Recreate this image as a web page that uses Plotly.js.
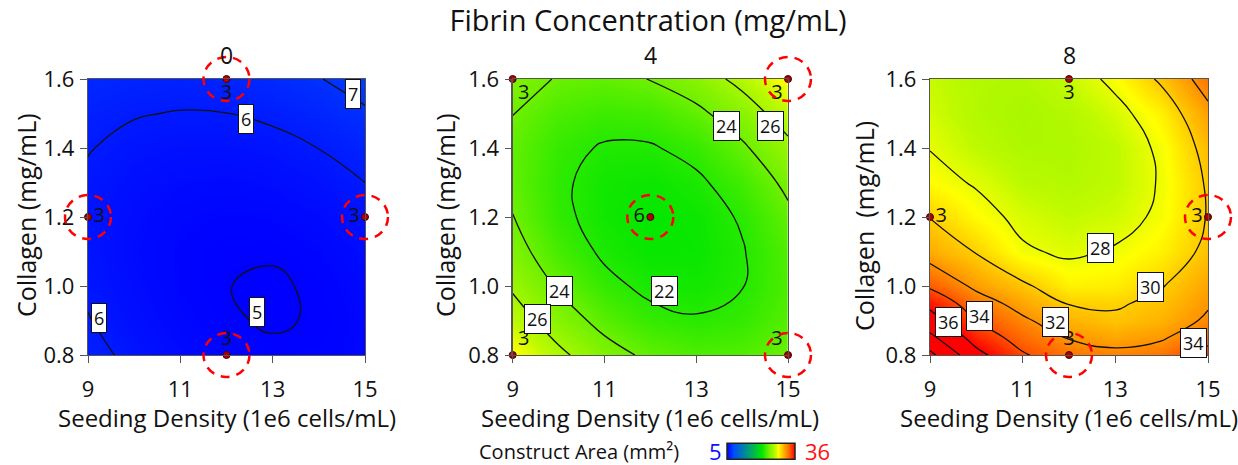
<!DOCTYPE html>
<html><head><meta charset="utf-8">
<script src="https://cdn.plot.ly/plotly-3.0.1.min.js"></script>
<style>html,body{margin:0;padding:0;background:#fff;} #chart{width:1238px;height:465px;}</style>
</head><body><div id="chart"></div>
<script>
// ---------------- data ----------------
const seedingDensity = [9, 10, 11, 12, 13, 14, 15];
const collagen = [0.8, 0.9, 1.0, 1.1, 1.2, 1.3, 1.4, 1.5, 1.6];
const collagenFine = [0.8, 0.85, 0.9, 0.95, 1.0, 1.1, 1.2, 1.3, 1.4, 1.5, 1.6];
const fibrinLevels = ['0', '4', '8'];

// Construct area (mm²), rows = collagen, cols = seeding density
const areaFibrin0 = [
  [6.28, 5.79, 5.42, 5.18, 5.10, 5.12, 5.26],
  [6.04, 5.58, 5.25, 5.06, 4.94, 5.05, 5.24],
  [5.88, 5.46, 5.17, 5.01, 4.93, 5.08, 5.31],
  [5.79, 5.41, 5.16, 5.04, 5.05, 5.19, 5.46],
  [5.79, 5.45, 5.24, 5.16, 5.20, 5.38, 5.69],
  [5.88, 5.57, 5.40, 5.35, 5.44, 5.66, 6.00],
  [6.04, 5.77, 5.64, 5.63, 5.75, 6.01, 6.39],
  [6.28, 6.05, 5.96, 5.99, 6.15, 6.44, 6.87],
  [6.61, 6.42, 6.36, 6.43, 6.63, 6.96, 7.42]
];
const areaFibrin4 = [
  [28.71, 26.43, 24.73, 23.63, 23.12, 23.21, 23.89],
  [27.04, 24.94, 23.43, 22.45, 22.12, 22.40, 23.32],
  [25.71, 23.79, 22.40, 21.65, 21.50, 21.95, 23.09],
  [24.70, 22.90, 21.75, 21.20, 21.25, 21.90, 23.20],
  [24.03, 22.35, 21.45, 21.10, 21.32, 22.15, 23.63],
  [23.70, 22.25, 21.48, 21.30, 21.72, 22.75, 24.40],
  [23.69, 22.45, 21.86, 21.86, 22.47, 23.72, 25.51],
  [24.02, 23.03, 22.63, 22.78, 23.60, 24.97, 26.94],
  [24.69, 23.88, 23.66, 24.03, 25.00, 26.56, 28.71]
];
const areaFibrin8 = [
  [40.5, 36.6, 34.2, 32.9, 32.5, 32.9, 34.8],
  [38.5, 35.2, 33.2, 31.9, 31.3, 31.8, 33.3],
  [36.8, 34.0, 32.3, 30.9, 30.3, 30.9, 32.3],
  [35.5, 32.9, 31.3, 29.9, 29.8, 30.4, 31.8],
  [33.7, 31.6, 30.3, 28.9, 29.0, 29.9, 31.4],
  [31.1, 29.9, 28.2, 27.75, 28.15, 28.9, 30.4],
  [29.95, 28.6, 27.6, 27.1, 27.4, 28.3, 30.1],
  [28.55, 27.85, 26.9, 26.6, 27.0, 28.15, 30.2],
  [27.95, 27.0, 26.4, 26.4, 27.0, 28.3, 30.6],
  [27.5, 26.6, 26.2, 26.6, 27.5, 28.9, 31.5],
  [27.2, 26.6, 26.5, 27.15, 28.4, 30.3, 32.9]
];

// design points (seeding density, collagen, replicate count)
const designX0 = [12, 9, 15, 12];
const designY0 = [1.6, 1.2, 1.2, 0.8];
const designN0 = ['3', '3', '3', '3'];
const designX4 = [9, 15, 12, 9, 15];
const designY4 = [1.6, 1.6, 1.2, 0.8, 0.8];
const designN4 = ['3', '3', '6', '3', '3'];
const designX8 = [12, 9, 15, 12];
const designY8 = [1.6, 1.2, 1.2, 0.8];
const designN8 = ['3', '3', '3', '3'];

// highlighted (circled) design points
const circledX0 = [12, 9, 15, 12];
const circledY0 = [1.6, 1.2, 1.2, 0.8];
const circledX4 = [15, 12, 15];
const circledY4 = [1.6, 1.2, 0.8];
const circledX8 = [15, 12];
const circledY8 = [1.2, 0.8];

const xTicks = [9, 11, 13, 15];
const yTicks = [0.8, 1.0, 1.2, 1.4, 1.6];
const areaMin = 5, areaMax = 36;

// contour label placements [text, x, y]
const labels0 = [['7', 14.74, 1.557], ['6', 12.42, 1.484], ['5', 12.67, 0.925], ['6', 9.23, 0.906]];
const labels4 = [['24', 13.65, 1.463], ['26', 14.61, 1.463], ['24', 10.02, 0.985], ['26', 9.55, 0.904], ['22', 12.30, 0.985]];
const labels8 = [['28', 12.67, 1.109], ['30', 13.75, 0.998], ['32', 11.70, 0.895], ['36', 9.40, 0.896], ['34', 10.06, 0.912], ['34', 14.68, 0.834]];

// ---------------- figure ----------------
const W = 1238, H = 465;
const FONT = 'Open Sans, Noto Sans, sans-serif';
const xDomains = [[88 / W, 365 / W], [512.7 / W, 788 / W], [930 / W, 1208 / W]];
const yDomain = [1 - 355 / H, 1 - 79 / H];
const xRange = [9, 15], yRange = [0.8, 1.6];

const colorscale = [
  [0, 'rgb(0,0,255)'], [0.097, 'rgb(0,75,255)'], [0.516, 'rgb(0,230,0)'],
  [0.613, 'rgb(110,240,0)'], [0.71, 'rgb(190,250,0)'], [0.758, 'rgb(255,255,0)'],
  [0.806, 'rgb(255,205,0)'], [0.871, 'rgb(255,145,0)'], [0.935, 'rgb(255,80,0)'],
  [1, 'rgb(255,0,0)']
];

const panels = [
  {z: areaFibrin0, y: collagen, lv: [5, 7, 1], dx: designX0, dy: designY0, dn: designN0,
   tp: ['bottom center', 'middle right', 'middle left', 'top center'],
   cx: circledX0, cy: circledY0, labels: labels0, ytitle: 'Collagen (mg/mL)', ytx: 26, yty: 215},
  {z: areaFibrin4, y: collagen, lv: [22, 26, 2], dx: designX4, dy: designY4, dn: designN4,
   tp: ['bottom right', 'bottom left', 'middle left', 'top right', 'top left'],
   cx: circledX4, cy: circledY4, labels: labels4, ytitle: 'Collagen (mg/mL)', ytx: 445, yty: 215},
  {z: areaFibrin8, y: collagenFine, lv: [28, 40, 2], dx: designX8, dy: designY8, dn: designN8,
   tp: ['bottom center', 'middle right', 'middle left', 'top center'],
   cx: circledX8, cy: circledY8, labels: labels8, ytitle: 'Collagen  (mg/mL)', ytx: 864, yty: 226}
];

const traces = [];
const layout = {
  width: W, height: H, margin: {l: 0, r: 0, t: 0, b: 0},
  paper_bgcolor: '#fff', plot_bgcolor: '#fff', showlegend: false,
  font: {family: FONT, color: '#111', size: 20},
  title: {text: 'Fibrin Concentration (mg/mL)', x: 648 / W, xanchor: 'center', y: 1 - 21 / H, yanchor: 'middle',
          font: {family: FONT, size: 29, color: '#111'}},
  coloraxis: {cmin: areaMin, cmax: areaMax, colorscale: colorscale,
    colorbar: {orientation: 'h', x: 761 / W, xanchor: 'center', y: 1 - 451.5 / H, yanchor: 'middle',
      len: 68, lenmode: 'pixels', thickness: 16, thicknessmode: 'pixels',
      outlinewidth: 1.5, outlinecolor: '#222', showticklabels: false, ticks: '', xpad: 0, ypad: 0}},
  annotations: [], shapes: []
};

panels.forEach((p, i) => {
  const sfx = i === 0 ? '' : String(i + 1);
  const xa = 'x' + sfx, ya = 'y' + sfx;
  traces.push({
    type: 'contour', x: seedingDensity, y: p.y, z: p.z, xaxis: xa, yaxis: ya,
    coloraxis: 'coloraxis', hoverinfo: 'skip',
    contours: {coloring: 'heatmap', start: p.lv[0], end: p.lv[1], size: p.lv[2], showlabels: false},
    line: {color: '#111', width: 1.3, smoothing: 1.3}
  });
  traces.push({
    type: 'scatter', mode: 'markers+text', x: p.dx, y: p.dy, text: p.dn, textposition: p.tp,
    xaxis: xa, yaxis: ya, cliponaxis: false, hoverinfo: 'skip',
    marker: {color: '#b00000', size: 7, line: {color: '#400', width: 1}},
    textfont: {family: FONT, size: 20, color: '#111'}
  });
  const axCommon = {showgrid: false, zeroline: false, showline: true, mirror: true,
    linecolor: '#555', linewidth: 1.2, ticks: 'outside', ticklen: 7, tickcolor: '#555',
    tickfont: {family: FONT, size: 22, color: '#111'}, fixedrange: true};
  layout['xaxis' + sfx] = Object.assign({}, axCommon, {domain: xDomains[i], range: xRange,
    anchor: ya, tickvals: xTicks, ticklabelstandoff: 7});
  layout['yaxis' + sfx] = Object.assign({}, axCommon, {domain: yDomain, range: yRange,
    anchor: xa, tickvals: yTicks, tickformat: '.1f', ticklabelstandoff: 1});

  const cxPix = (xDomains[i][0] + xDomains[i][1]) / 2 * W;
  // panel title (fibrin level)
  layout.annotations.push({text: fibrinLevels[i], xref: 'paper', yref: 'paper', x: cxPix / W, y: 1 - 55 / H,
    xanchor: 'center', yanchor: 'middle', showarrow: false, font: {family: FONT, size: 23, color: '#111'}});
  // x title
  layout.annotations.push({text: 'Seeding Density (1e6 cells/mL)', xref: 'paper', yref: 'paper',
    x: cxPix / W, y: 1 - 417 / H, xanchor: 'center', yanchor: 'middle', showarrow: false, borderpad: 0,
    font: {family: FONT, size: 24, color: '#111'}});
  // y title
  layout.annotations.push({text: p.ytitle, xref: 'paper', yref: 'paper', x: p.ytx / W, y: 1 - p.yty / H,
    xanchor: 'center', yanchor: 'middle', textangle: -90, showarrow: false,
    font: {family: FONT, size: 25, color: '#111'}});
  // contour labels
  p.labels.forEach(l => layout.annotations.push({text: l[0], xref: xa, yref: ya, x: l[1], y: l[2],
    showarrow: false, bgcolor: '#fff', bordercolor: '#111', borderwidth: 1, borderpad: 2,
    font: {family: FONT, size: 18, color: '#111'}}));
  // dashed circles around highlighted points
  p.cx.forEach((cx, k) => layout.shapes.push({type: 'circle', xref: xa + ' domain', yref: ya + ' domain',
    xsizemode: 'pixel', ysizemode: 'pixel',
    xanchor: (cx - xRange[0]) / (xRange[1] - xRange[0]), yanchor: (p.cy[k] - yRange[0]) / (yRange[1] - yRange[0]),
    x0: -23, x1: 23, y0: -22, y1: 22, line: {color: '#f00', width: 2.5, dash: '9px,7px'}}));
});

// colorbar caption
layout.annotations.push({text: 'Construct Area (mm²)', xref: 'paper', yref: 'paper', x: 579 / W, y: 1 - 451 / H,
  xanchor: 'center', yanchor: 'middle', showarrow: false, font: {family: FONT, size: 20, color: '#111'}});
layout.annotations.push({text: String(areaMin), xref: 'paper', yref: 'paper', x: 715 / W, y: 1 - 451 / H,
  xanchor: 'center', yanchor: 'middle', showarrow: false, font: {family: FONT, size: 22, color: '#1010ff'}});
layout.annotations.push({text: String(areaMax), xref: 'paper', yref: 'paper', x: 817 / W, y: 1 - 451 / H,
  xanchor: 'center', yanchor: 'middle', showarrow: false, font: {family: FONT, size: 22, color: '#ff1010'}});

Plotly.newPlot('chart', traces, layout, {displayModeBar: false, staticPlot: true});
</script></body></html>
